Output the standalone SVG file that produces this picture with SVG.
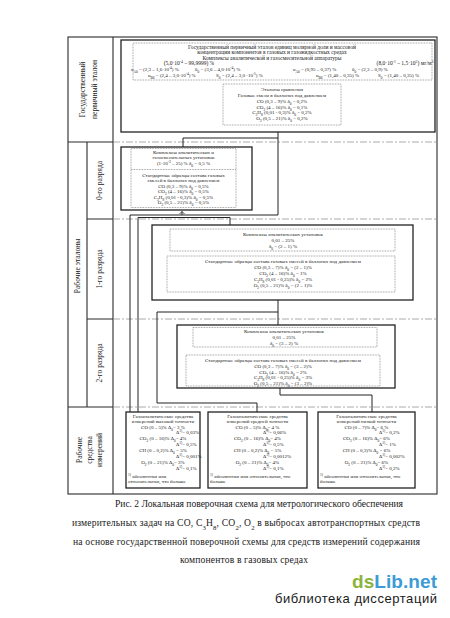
<svg xmlns="http://www.w3.org/2000/svg" width="450" height="618" viewBox="0 0 450 618">
<defs>
<style>
.solid{fill:none;stroke:#222;stroke-width:1.3}
.dot{fill:none;stroke:#555;stroke-width:0.6;stroke-dasharray:0.8 0.8}
.dash{fill:none;stroke:#888;stroke-width:0.7;stroke-dasharray:7 2 2 2}
.ln{fill:none;stroke:#222;stroke-width:1}
.fr{fill:none;stroke:#2a2a2a;stroke-width:1.1}
text{font-family:"Liberation Serif","DejaVu Serif",serif;fill:#1a1a1a}
.t{font-size:5px;text-anchor:middle}
.ts{font-size:5px}
.tb{font-size:5.5px;text-anchor:middle}
.tbs{font-size:5px}
.lab{font-size:7.5px;text-anchor:middle}
.cap{font-size:9.6px}
.sb{font-size:70%;baseline-shift:sub}
.sp{font-size:70%;baseline-shift:super}
.wm{font-family:"Liberation Sans","DejaVu Sans",sans-serif}
</style>
<marker id="arr" markerWidth="6" markerHeight="6" refX="3" refY="3" orient="auto" markerUnits="userSpaceOnUse">
<path d="M0.5,0.5 L3,3 L0.5,5.5" fill="none" stroke="#222" stroke-width="0.8"/>
</marker>
</defs>
<rect width="450" height="618" fill="#fff"/>

<g id="frame">
<rect class="fr" x="68" y="37" width="369" height="457"/>
<path class="fr" d="M113,37 V494 M87,142 V407 M68,142 H113 M68,407 H113 M87,219 H113 M87,319 H113"/>
<path class="dash" d="M113,142 H437 M113,219 H437 M113,319 H437 M113,407 H437"/>
</g>

<g id="labels">
<text class="lab" transform="translate(85,89.5) rotate(-90)">Государственный</text>
<text class="lab" transform="translate(97,89.5) rotate(-90)">первичный эталон</text>
<text class="lab" transform="translate(79.5,266) rotate(-90)">Рабочие эталоны</text>
<text class="lab" transform="translate(102,180.5) rotate(-90)">0-го разряда</text>
<text class="lab" transform="translate(102,269) rotate(-90)">1-го разряда</text>
<text class="lab" transform="translate(102,363) rotate(-90)">2-го разряда</text>
<text class="lab" transform="translate(82,450) rotate(-90)">Рабочие</text>
<text class="lab" transform="translate(92,450) rotate(-90)">средства</text>
<text class="lab" transform="translate(102,450) rotate(-90)">измерений</text>
</g>

<g id="connectors">
<path class="ln" d="M278,132 V215 M183,138 H278 M183,138 V147"/>
<path class="ln" d="M130,215 H278 M130,215 V412"/>
<path class="ln" d="M182,215 V211.5" marker-end="url(#arr)"/>
<path class="ln" d="M138,217.5 H230 V225 M138,217.5 V412"/>
<path class="ln" d="M278,300 V325 M157,312 H278 M157,312 V403 H257 V412"/>
<path class="ln" d="M280,388 V395 H372 V412"/>
</g>

<g id="gos">
<rect class="solid" x="121" y="40" width="314" height="92"/>
<rect class="dot" x="133" y="43" width="299" height="37"/>
<text class="tb" x="272" y="48.9">Государственный первичный эталон единиц молярной доли и массовой</text>
<text class="tb" x="272" y="54.4">концентрации компонентов в газовых и газожидкостных средах</text>
<text class="tb" x="272" y="59.9">Комплексы аналитической и газосмесительной аппаратуры</text>
<text class="tb" x="189" y="65.4">(5,0·10<tspan class="sp">-4</tspan> – 99,9999) %</text>
<text class="tb" x="405" y="65.4">(8,0·10<tspan class="sp">-1</tspan> – 1,5·10<tspan class="sp">5</tspan>) мг/м<tspan class="sp">3</tspan></text>
<text class="tbs" x="131" y="70.9">u<tspan class="sb">A0</tspan> = (2,3 – 1,6·10<tspan class="sp">-4</tspan>) %</text>
<text class="tbs" x="195" y="70.9">θ<tspan class="sb">0</tspan> = (3,6 – 4,0·10<tspan class="sp">-4</tspan>) %</text>
<text class="tbs" x="293" y="70.9">u<tspan class="sb">A0</tspan> = (0,95 – 0,37) %</text>
<text class="tbs" x="352" y="70.9">θ<tspan class="sb">0</tspan> = (2,3 – 0,9) %</text>
<text class="tbs" x="148" y="76.9">u<tspan class="sb">B0</tspan> = (2,4 – 3,0·10<tspan class="sp">-4</tspan>) %</text>
<text class="tbs" x="216" y="76.9">S<tspan class="sb">0</tspan> = (2,4 – 3,0 ·10<tspan class="sp">-5</tspan>) %</text>
<text class="tbs" x="316" y="76.9">u<tspan class="sb">B0</tspan> = (1,40 – 0,35) %</text>
<text class="tbs" x="378" y="76.9">S<tspan class="sb">0</tspan> = (1,40 – 0,35) %</text>
</g>

<g id="sravn">
<rect class="dot" x="223" y="84" width="118" height="41"/>
<text class="t" x="282" y="90.7">Эталоны сравнения</text>
<text class="t" x="282" y="96.7">Газовые смеси в баллонах под давлением</text>
<text class="t" x="282" y="102.7">CO (0,3 – 9)% δ<tspan class="sb">0</tspan> = 0,2%</text>
<text class="t" x="282" y="108.7">CO<tspan class="sb">2</tspan> (4 – 16)% δ<tspan class="sb">0</tspan> = 0,1%</text>
<text class="t" x="282" y="114.2">C<tspan class="sb">3</tspan>H<tspan class="sb">8</tspan> (0,01 - 0,3)% δ<tspan class="sb">0</tspan> = 0,2%</text>
<text class="t" x="282" y="119.7">O<tspan class="sb">2</tspan> (0,5 – 21)% δ<tspan class="sb">0</tspan> = 0,2%</text>
</g>

<g id="razr0">
<rect class="solid" x="121" y="147" width="131" height="63"/>
<rect class="dot" x="131" y="148.5" width="105" height="59"/>
<path class="dot" d="M131,169.5 H236"/>
<text class="t" x="183.5" y="153.7">Комплексы аналитических и</text>
<text class="t" x="183.5" y="159.2">газосмесительных установок</text>
<text class="t" x="183.5" y="164.7">(1·10<tspan class="sp">-3</tspan> – 25) % δ<tspan class="sb">0</tspan> = 0,5 %</text>
<text class="t" x="183.5" y="176.7">Стандартные образцы состава газовых</text>
<text class="t" x="183.5" y="182.2">смесей в баллонах под давлением</text>
<text class="t" x="183.5" y="187.7">CO (0,3 – 9)% δ<tspan class="sb">0</tspan> = 0,5%</text>
<text class="t" x="183.5" y="193.2">CO<tspan class="sb">2</tspan> (4 – 16)% δ<tspan class="sb">0</tspan> = 0,5%</text>
<text class="t" x="183.5" y="198.7">C<tspan class="sb">3</tspan>H<tspan class="sb">8</tspan> (0,01 - 0,3)% δ<tspan class="sb">0</tspan> = 0,5%</text>
<text class="t" x="183.5" y="204.2">O<tspan class="sb">2</tspan> (0,5 – 21)% δ<tspan class="sb">0</tspan> = 0,5%</text>
</g>

<g id="razr1">
<rect class="solid" x="152" y="225" width="261" height="75"/>
<rect class="dot" x="170" y="229" width="225" height="22"/>
<rect class="dot" x="167" y="256" width="228" height="36"/>
<text class="t" x="283" y="235.7">Комплексы аналитических установок</text>
<text class="t" x="283" y="241.7">0,01 – 25%</text>
<text class="t" x="283" y="247.7">δ<tspan class="sb">0</tspan> = (2 – 1) %</text>
<text class="t" x="283" y="263.2">Стандартные образцы состава газовых смесей в баллонах под давлением</text>
<text class="t" x="283" y="269.2">CO (0,3 – 7)% δ<tspan class="sb">0</tspan> = (2 – 1)%</text>
<text class="t" x="283" y="275.2">CO<tspan class="sb">2</tspan> (4 – 16)% δ<tspan class="sb">0</tspan> = 1%</text>
<text class="t" x="283" y="280.7">C<tspan class="sb">3</tspan>H<tspan class="sb">8</tspan> (0,01 - 0,25)% δ<tspan class="sb">0</tspan> = 2%</text>
<text class="t" x="283" y="286.7">O<tspan class="sb">2</tspan> (0,5 – 21)% δ<tspan class="sb">0</tspan> = (2 – 1)%</text>
</g>

<g id="razr2">
<rect class="solid" x="177" y="325" width="218" height="63"/>
<rect class="dot" x="193" y="327.5" width="184" height="19.5"/>
<rect class="dot" x="186" y="355" width="194" height="31"/>
<text class="t" x="284" y="332.7">Комплексы аналитических установок</text>
<text class="t" x="284" y="338.7">0,01 – 25%</text>
<text class="t" x="284" y="344.7">δ<tspan class="sb">0</tspan> = (3 – 2) %</text>
<text class="t" x="283" y="361.7">Стандартные образцы состава газовых смесей в баллонах под давлением</text>
<text class="t" x="283" y="367.7">CO (0,3 – 7)% δ<tspan class="sb">0</tspan> = (3 – 2)%</text>
<text class="t" x="283" y="373.7">CO<tspan class="sb">2</tspan> (4 – 16)% δ<tspan class="sb">0</tspan> = 2%</text>
<text class="t" x="283" y="379.2">C<tspan class="sb">3</tspan>H<tspan class="sb">8</tspan> (0,01 - 0,25)% δ<tspan class="sb">0</tspan> = 3%</text>
<text class="t" x="283" y="384.7">O<tspan class="sb">2</tspan> (0,5 – 21)% δ<tspan class="sb">0</tspan> = (3 – 2)%</text>
</g>

<g id="si-high">
<rect class="solid" x="126" y="412" width="74" height="76"/>
<text class="t" x="163" y="417.7">Газоаналитические средства</text>
<text class="t" x="163" y="422.7">измерений высокой точности</text>
<text class="t" x="163" y="428.7">CO (0 – 5)% Δ<tspan class="sb">0</tspan>= 3 %</text>
<text class="ts" x="176" y="434.2">Δ<tspan class="sp">1)</tspan>= 0,03%</text>
<text class="t" x="163" y="440.2">CO<tspan class="sb">2</tspan> (0 – 16)% Δ<tspan class="sb">0</tspan>= 4%</text>
<text class="ts" x="176" y="445.7">Δ<tspan class="sp">1)</tspan>= 0,5%</text>
<text class="t" x="163" y="452.2">CH (0 – 0,2)% Δ<tspan class="sb">0</tspan> = 5%</text>
<text class="ts" x="176" y="457.7">Δ<tspan class="sp">1)</tspan>= 0,001%</text>
<text class="t" x="163" y="464.2">O<tspan class="sb">2</tspan> (0 – 21)% Δ<tspan class="sb">0</tspan>= 3%</text>
<text class="ts" x="176" y="469.7">Δ<tspan class="sp">1)</tspan>= 0,1%</text>
<text class="ts" x="128" y="477.7"><tspan class="sp">1)</tspan> абсолютная или</text>
<text class="ts" x="128" y="483.2">относительная, что больше</text>
</g>

<g id="si-mid">
<rect class="solid" x="208" y="412" width="99" height="76"/>
<text class="t" x="257.5" y="417.7">Газоаналитические средства</text>
<text class="t" x="257.5" y="422.7">измерений средней точности</text>
<text class="t" x="257.5" y="428.7">CO (0 – 5)% Δ<tspan class="sb">0</tspan>= 4 %</text>
<text class="ts" x="263" y="434.2">Δ<tspan class="sp">1)</tspan>= 0,06%</text>
<text class="t" x="257.5" y="440.2">CO<tspan class="sb">2</tspan> (0 – 16)% Δ<tspan class="sb">0</tspan>= 4%</text>
<text class="ts" x="263" y="445.7">Δ<tspan class="sp">1)</tspan>= 0,5%</text>
<text class="t" x="257.5" y="452.2">CH (0 – 0,2)% Δ<tspan class="sb">0</tspan> = 5%</text>
<text class="ts" x="263" y="457.7">Δ<tspan class="sp">1)</tspan>= 0,0012%</text>
<text class="t" x="257.5" y="464.2">O<tspan class="sb">2</tspan> (0 – 21)% Δ<tspan class="sb">0</tspan>= 4%</text>
<text class="ts" x="263" y="469.7">Δ<tspan class="sp">1)</tspan>= 0,1%</text>
<text class="ts" x="210" y="477.7"><tspan class="sp">1)</tspan> абсолютная или относительная, что</text>
<text class="ts" x="210" y="483.2">больше</text>
</g>

<g id="si-low">
<rect class="solid" x="318" y="412" width="97" height="76"/>
<text class="t" x="366.5" y="417.7">Газоаналитические средства</text>
<text class="t" x="366.5" y="422.7">измерений низкой точности</text>
<text class="t" x="366.5" y="428.7">CO (0 – 7)% Δ<tspan class="sb">0</tspan>= 6 %</text>
<text class="ts" x="379" y="434.2">Δ<tspan class="sp">1)</tspan>= 0,2%</text>
<text class="t" x="366.5" y="440.2">CO<tspan class="sb">2</tspan> (0 – 16)% Δ<tspan class="sb">0</tspan>= 6%</text>
<text class="ts" x="379" y="445.7">Δ<tspan class="sp">1)</tspan>= 1%</text>
<text class="t" x="366.5" y="452.2">CH (0 – 0,3)% Δ<tspan class="sb">0</tspan> = 6%</text>
<text class="ts" x="379" y="457.7">Δ<tspan class="sp">1)</tspan>= 0,002%</text>
<text class="t" x="366.5" y="464.2">O<tspan class="sb">2</tspan> (0 – 21)% Δ<tspan class="sb">0</tspan>= 6%</text>
<text class="ts" x="379" y="469.7">Δ<tspan class="sp">1)</tspan>= 0,2%</text>
<text class="ts" x="320" y="477.7"><tspan class="sp">1)</tspan> абсолютная или относительная, что</text>
<text class="ts" x="320" y="483.2">больше</text>
</g>

<g id="caption">
<text class="cap" x="115" y="507" textLength="288" lengthAdjust="spacing">Рис. 2 Локальная поверочная схема для метрологического обеспечения</text>
<text class="cap" x="72" y="526" textLength="348" lengthAdjust="spacing">измерительных задач на CO, C<tspan class="sb">3</tspan>H<tspan class="sb">8</tspan>, CO<tspan class="sb">2</tspan>, O<tspan class="sb">2</tspan> в выбросах автотранспортных средств</text>
<text class="cap" x="73" y="544.5" textLength="347" lengthAdjust="spacing">на основе государственной поверочной схемы для средств измерений содержания</text>
<text class="cap" x="180" y="563" textLength="128" lengthAdjust="spacing">компонентов в газовых средах</text>
</g>

<g id="watermark">
<text class="wm" x="352" y="588" font-size="19" font-weight="bold" textLength="85" lengthAdjust="spacing"><tspan fill="#8cb43c">ds</tspan><tspan fill="#3d9bd6">Lib.net</tspan></text>
<text class="wm" x="275" y="603" font-size="13" fill="#5ba7dc" textLength="162" lengthAdjust="spacing">библиотека диссертаций</text>
</g>
</svg>
